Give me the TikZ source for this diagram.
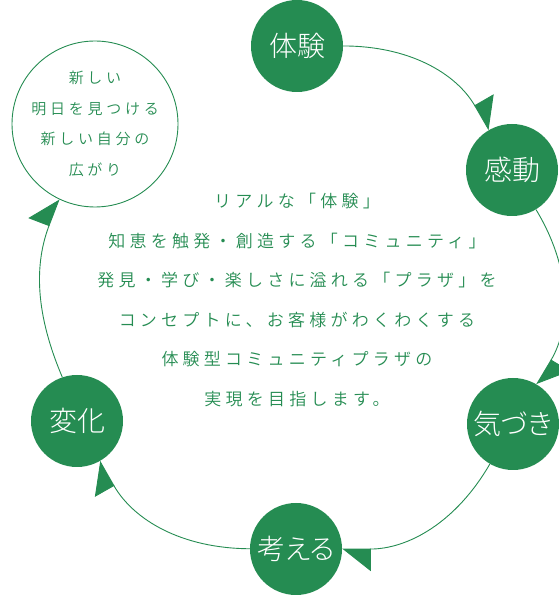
\documentclass[tikz,border=0pt]{standalone}
\usepackage{fontspec}
\setmainfont{Noto Sans CJK JP}
\newfontfamily\bodyfont[LetterSpace=25]{Noto Sans CJK JP DemiLight}
\newfontfamily\labelfont[RawFeature=+palt]{Noto Sans CJK JP Light}
\usetikzlibrary{arrows.meta}
\definecolor{mygreen}{RGB}{37,140,82}

\begin{document}
\begin{tikzpicture}[x=1pt, y=1pt,
    stage/.style={circle, fill=mygreen, minimum size=92pt, inner sep=0pt, text=white, font=\labelfont\fontsize{28pt}{30pt}\selectfont},
    goal/.style={circle, draw=mygreen, line width=0.9pt, minimum size=166pt, inner sep=0pt, align=center, text=mygreen, font=\bodyfont\fontsize{15pt}{30.5pt}\selectfont},
    concept/.style={align=center, text=mygreen, font=\bodyfont\fontsize{17pt}{39.5pt}\selectfont},
    arr/.style={-{Triangle[length=28pt, width=44pt, left]}, line width=0.9pt, mygreen}
  ]
  \useasboundingbox (0,0) rectangle (559,595);

  \node[stage] (taiken) at (297,549) {体験};
  \node[stage] (kandou) at (512,425) {感動};
  \node[stage] (kizuki) at (513,171) {気づき};
  \node[stage] (kangaeru) at (296,46) {考える};
  \node[stage] (henka) at (77,174) {変化};
  \node[goal] (hirogari) at (95,471) {新しい\\明日を見つける\\新しい自分の\\広がり};

  \node[concept] (text) at (297,295) {リアルな「体験」\\知恵を触発・創造する「コミュニティ」\\発見・学び・楽しさに溢れる「プラザ」を\\コンセプトに、お客様がわくわくする\\体験型コミュニティプラザの\\実現を目指します。};

  \draw[arr] (taiken) to[bend left=30] (kandou);
  \draw[arr] (kandou) to[bend left=31] (kizuki);
  \draw[arr] (kizuki) to[bend left=30] (kangaeru);
  \draw[arr] (kangaeru) to[bend left=30] (henka);
  \draw[arr] (henka) to[bend left=22] (hirogari);
\end{tikzpicture}
\end{document}
